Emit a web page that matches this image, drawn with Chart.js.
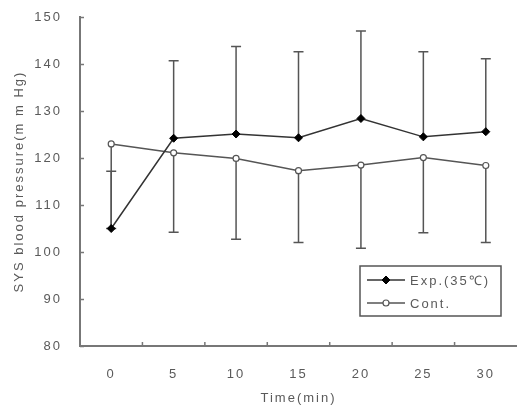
<!DOCTYPE html>
<html>
<head>
<meta charset="utf-8">
<script src="https://cdn.jsdelivr.net/npm/chart.js@4"></script>
<style>
  html, body { margin: 0; padding: 0; background: #fff; }
  canvas { display: block; }
</style>
</head>
<body>
<canvas id="bpChart" width="517" height="408"></canvas>
<script>
/* ── Data ───────────────────────────────────────── */
const timeLabels = ['0', '5', '10', '15', '20', '25', '30'];
const expMean  = [105.0, 124.2, 125.1, 124.3, 128.4, 124.5, 125.6];
const expSD    = [12.2, 16.5, 18.6, 18.3, 18.6, 18.1, 15.5];
const contMean = [123.0, 121.1, 119.9, 117.3, 118.5, 120.1, 118.4];
const contSD   = [18.0, 16.9, 17.2, 15.3, 17.7, 16.0, 16.4];
const yTicks   = [80, 90, 100, 110, 120, 130, 140, 150];

const FONT = "'Liberation Sans', Arial, sans-serif";
const TXT = '#5a5a5a';
const AXIS = '#777';

/* wide letter spacing like the original bitmap font */
const spacing = {
  id: 'spacing',
  beforeUpdate(chart) { chart.ctx.letterSpacing = '2px'; },
  beforeDraw(chart) { chart.ctx.letterSpacing = '2px'; }
};

/* ── Error bars: Exp. upward, Cont. downward ───── */
const errorBars = {
  id: 'errorBars',
  beforeDatasetsDraw(chart) {
    const { ctx, scales: { x, y } } = chart;
    ctx.save();
    ctx.strokeStyle = '#555';
    ctx.lineWidth = 1.5;
    const cap = 5;
    const bar = (i, from, to) => {
      const px = x.getPixelForValue(i);
      const a = y.getPixelForValue(from), b = y.getPixelForValue(to);
      ctx.beginPath();
      ctx.moveTo(px, a); ctx.lineTo(px, b);
      ctx.moveTo(px - cap, b); ctx.lineTo(px + cap, b);
      ctx.stroke();
    };
    expMean.forEach((m, i) => bar(i, m, m + expSD[i]));
    contMean.forEach((m, i) => bar(i, m, m - contSD[i]));
    ctx.restore();
  }
};

/* ── Inward tick marks ─────────────────────────── */
const innerTicks = {
  id: 'innerTicks',
  afterDraw(chart) {
    const { ctx, scales: { x, y }, chartArea: ca } = chart;
    ctx.save();
    ctx.strokeStyle = AXIS;
    ctx.lineWidth = 1.5;
    ctx.beginPath();
    yTicks.forEach(v => {
      const py = Math.round(y.getPixelForValue(v)) + 0.5;
      ctx.moveTo(ca.left, py); ctx.lineTo(ca.left + 4, py);
    });
    for (let i = 0; i < timeLabels.length - 1; i++) {
      const px = (x.getPixelForValue(i) + x.getPixelForValue(i + 1)) / 2;
      ctx.moveTo(px, ca.bottom); ctx.lineTo(px, ca.bottom - 4);
    }
    ctx.stroke();
    ctx.restore();
  }
};

/* ── Legend box with line + marker samples ────── */
const boxLegend = {
  id: 'boxLegend',
  afterDraw(chart) {
    const { ctx } = chart;
    const bx = 360, by = 266, bw = 141, bh = 50;
    ctx.save();
    ctx.fillStyle = '#fff';
    ctx.fillRect(bx, by, bw, bh);
    ctx.strokeStyle = '#555';
    ctx.lineWidth = 1.5;
    ctx.strokeRect(bx, by, bw, bh);

    const rows = [
      { y: by + 14, ds: chart.data.datasets[0] },
      { y: by + 37, ds: chart.data.datasets[1] }
    ];
    rows.forEach(r => {
      ctx.strokeStyle = r.ds.borderColor;
      ctx.lineWidth = 1.5;
      ctx.beginPath();
      ctx.moveTo(bx + 7, r.y); ctx.lineTo(bx + 45, r.y);
      ctx.stroke();
      ctx.fillStyle = r.ds.pointBackgroundColor;
      ctx.strokeStyle = r.ds.pointBorderColor;
      ctx.lineWidth = r.ds.pointBorderWidth || 1;
      Chart.helpers.drawPoint(ctx, { pointStyle: r.ds.pointStyle, radius: r.ds.pointRadius, rotation: 0, borderWidth: ctx.lineWidth }, bx + 26, r.y);
      ctx.fillStyle = TXT;
      ctx.font = `13px ${FONT}`;
      ctx.letterSpacing = '2px';
      ctx.textBaseline = 'middle';
      ctx.textAlign = 'left';
      ctx.fillText(r.ds.label, bx + 50, r.y + 1);
    });
    ctx.restore();
  }
};

new Chart(document.getElementById('bpChart'), {
  type: 'line',
  data: {
    labels: timeLabels,
    datasets: [
      {
        label: 'Exp.(35℃)',
        data: expMean,
        borderColor: '#333',
        borderWidth: 1.5,
        pointStyle: 'rectRot',
        pointRadius: 4,
        pointBackgroundColor: '#000',
        pointBorderColor: '#000',
        pointBorderWidth: 1,
        tension: 0
      },
      {
        label: 'Cont.',
        data: contMean,
        borderColor: '#555',
        borderWidth: 1.5,
        pointStyle: 'circle',
        pointRadius: 3,
        pointBackgroundColor: '#fff',
        pointBorderColor: '#555',
        pointBorderWidth: 1.2,
        tension: 0
      }
    ]
  },
  options: {
    responsive: false,
    animation: false,
    layout: { autoPadding: false, padding: { top: 17, right: 0, left: 0, bottom: 0 } },
    plugins: {
      legend: { display: false },
      tooltip: { enabled: false }
    },
    scales: {
      x: {
        type: 'category',
        offset: true,
        grid: { display: false },
        border: { display: true, color: AXIS, width: 2 },
        ticks: { color: TXT, font: { size: 13, family: FONT }, padding: 13, maxRotation: 0 },
        title: {
          display: true, text: 'Time(min)', color: TXT,
          font: { size: 13, family: FONT }, padding: { top: 0, bottom: 2 }
        },
        afterFit(s) { s.height = 62; s.paddingLeft = 0; s.paddingRight = 0; }
      },
      y: {
        min: 80, max: 150,
        grid: { display: false },
        border: { display: true, color: AXIS, width: 2 },
        ticks: { stepSize: 10, color: TXT, font: { size: 13, family: FONT }, padding: 10 },
        title: {
          display: true, text: 'SYS blood pressure(m m Hg)', color: TXT,
          font: { size: 13, family: FONT }, padding: { top: 12, bottom: 0 }
        },
        afterFit(s) { s.width = 80; s.paddingTop = 0; s.paddingBottom = 0; }
      }
    }
  },
  plugins: [spacing, errorBars, innerTicks, boxLegend]
});
</script>
</body>
</html>
